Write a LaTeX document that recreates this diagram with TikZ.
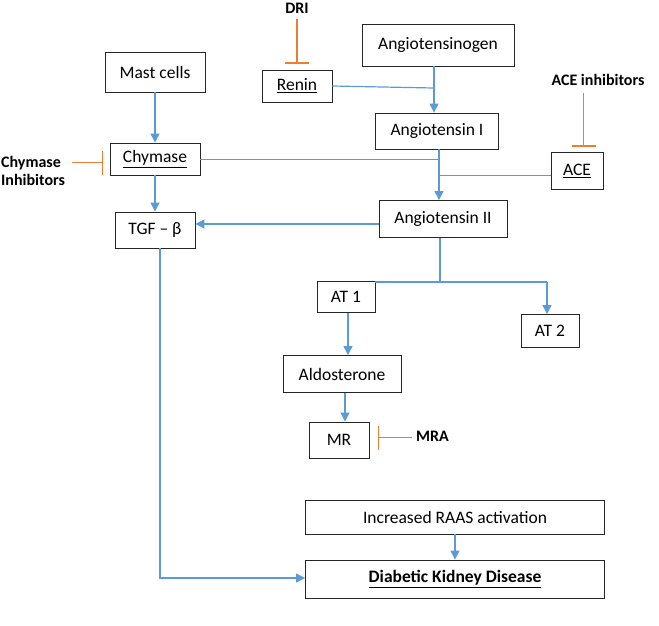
\documentclass[tikz,border=0pt]{standalone}
\usepackage{fontspec}
\setmainfont{Carlito}
\usetikzlibrary{arrows.meta}
\definecolor{lblue}{RGB}{91,155,213}
\definecolor{lorange}{RGB}{237,125,49}
\begin{document}
\begin{tikzpicture}[x=1pt,y=-1pt,
 box/.style={draw=black!85,line width=0.9pt,inner sep=0pt,font=\fontsize{17.5}{19}\selectfont},
 lbl/.style={font=\bfseries\fontsize{16}{18}\selectfont,align=left,inner sep=0pt},
 bl/.style={color=lblue,line width=1.2pt},
 ar/.style={bl,-{Triangle[width=9pt,length=9pt]}},
 inh/.style={color=lorange,line width=1.2pt,-{Bar[width=24pt]}}]
\useasboundingbox (0,0) rectangle (659,625);
\node[box,minimum width=100,minimum height=40] (mast) at (155,72) {Mast cells};
\node[box,minimum width=70,minimum height=32] (renin) at (297,86) {\underline{Renin}};
\node[box,minimum width=152,minimum height=42] (agen) at (438,45) {Angiotensinogen};
\node[box,minimum width=123,minimum height=36] (a1) at (437,131) {Angiotensin I};
\node[box,minimum width=90,minimum height=32] (chy) at (155,159) {\underline{Chymase}};
\node[box,minimum width=52,minimum height=37] (ace) at (577,171) {\underline{ACE}};
\node[box,minimum width=80,minimum height=36] (tgf) at (155,230) {TGF -- β};
\node[box,minimum width=128,minimum height=37] (a2) at (443,219) {Angiotensin II};
\node[box,minimum width=58,minimum height=31] (at1) at (346,297) {AT 1};
\node[box,minimum width=58,minimum height=33] (at2) at (550,331) {AT 2};
\node[box,minimum width=118,minimum height=37] (ald) at (342,374) {Aldosterone};
\node[box,minimum width=60,minimum height=36] (mr) at (339,440) {MR};
\node[box,minimum width=299,minimum height=34] (raas) at (455,517) {Increased RAAS activation};
\node[box,minimum width=299,minimum height=38] (dkd) at (455,579) {\bfseries\underline{Diabetic Kidney Disease}};
\node[lbl] (dri) at (297,8) {DRI};
\node[lbl] (acei) at (598,80) {ACE inhibitors};
\node[lbl,anchor=west] (chyi) at (1,171) {Chymase\\Inhibitors};
\node[lbl,anchor=west] (mra) at (416,436) {MRA};
% inhibitors
\coordinate (d0) at (297,18.5); \coordinate (d1) at (297,63.5);
\draw[inh] (d0) -- (d1);
\coordinate (e0) at (583.5,93); \coordinate (e1) at (583.5,146.5);
\draw[inh] (e0) -- (e1);
\coordinate (c0) at (72,162.5); \coordinate (c1) at (103,162.5);
\draw[inh] (c0) -- (c1);
\coordinate (m0) at (412,437.5); \coordinate (m1) at (377.5,437.5);
\draw[inh] (m0) -- (m1);
% blue
\draw[ar] (mast) -- (chy);
\draw[ar] (chy) -- (tgf);
\draw[ar] (agen.south -| 434,0) -- (a1.north -| 434,0);
\coordinate (rj) at (434,88);
\draw[bl] (renin.east) -- (rj);
\draw[ar] (a1.south -| 439,0) -- (a2.north -| 439,0);
\coordinate (cj) at (439,159.5);
\draw[bl] (chy.east |- cj) -- (cj);
\coordinate (aj) at (439,175.5);
\draw[bl] (ace.west |- aj) -- (aj);
\draw[ar] (a2.west |- 0,224) -- (tgf.east |- 0,224);
\coordinate (s0) at (440,282); \coordinate (sl) at (375,282); \coordinate (sr) at (547,282);
\draw[bl] (a2.south -| s0) -- (s0);
\draw[bl] (sl) -- (sr);
\draw[ar] (sr) -- (at2.north -| sr);
\draw[ar] (at1.south -| 348,0) -- (ald.north -| 348,0);
\draw[ar] (ald.south -| 345,0) -- (mr.north -| 345,0);
\draw[ar] (raas) -- (dkd);
\coordinate (tc) at (160,578);
\draw[ar] (tgf.south -| tc) -- (tc) -- (dkd.west |- tc);
\end{tikzpicture}
\end{document}
